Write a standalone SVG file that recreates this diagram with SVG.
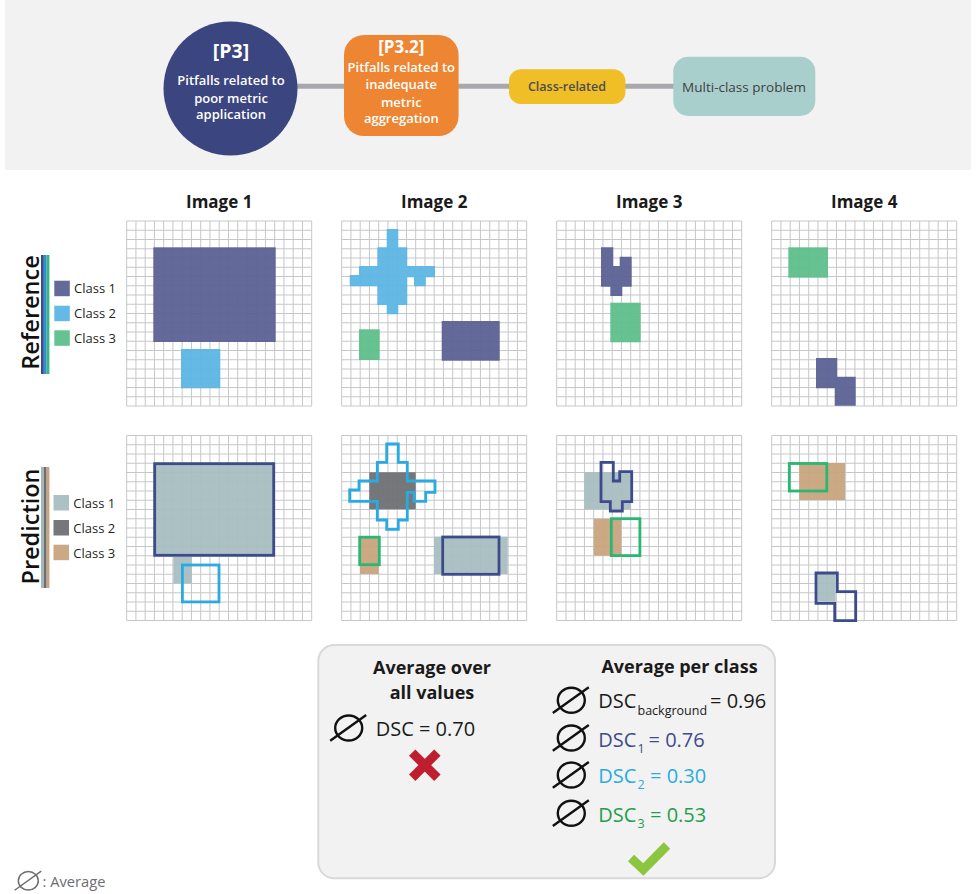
<svg xmlns="http://www.w3.org/2000/svg" width="976" height="894" viewBox="0 0 976 894">
<style>
text{font-family:"Open Sans","Liberation Sans",sans-serif}
.wt{fill:#fff;font-weight:600;font-size:13px;text-anchor:middle}
.wb{fill:#fff;font-weight:700;text-anchor:middle}
.title{font-weight:700;font-size:17px;text-anchor:middle;fill:#1a1a1a}
.leg{font-size:13px;fill:#231f20}
.side{font-size:23.5px;font-weight:600;text-anchor:middle;fill:#111}
.gl{stroke:#c6c7c9;stroke-width:1;fill:none}
.r1{fill:#5b6294;fill-opacity:.95}
.r2{fill:#5cb6e4;fill-opacity:.95}
.r3{fill:#5fbf8b;fill-opacity:.95}
.p1{fill:#a6bec0;fill-opacity:.95}
.p2{fill:#6f7073;fill-opacity:.95}
.p3{fill:#c9a47e;fill-opacity:.95}
.o1{fill:none;stroke:#3d4b8c;stroke-width:2.8}
.o2{fill:none;stroke:#29abe2;stroke-width:2.8}
.o3{fill:none;stroke:#2ab673;stroke-width:2.8}
.avg{fill:none;stroke:#111;stroke-width:2.4}
.dsc{font-size:20px;fill:#1a1a1a}
.sub{font-size:12.5px}
.h{font-weight:700;font-size:18px;text-anchor:middle;fill:#1a1a1a}
.conn{stroke:#a7a9ac;stroke-width:5;fill:none}
</style>
<defs>
<g id="grid">
<rect width="185" height="185" fill="#fff"/>
<path class="gl" d="M0 0V185M9.25 0V185M18.5 0V185M27.75 0V185M37 0V185M46.25 0V185M55.5 0V185M64.75 0V185M74 0V185M83.25 0V185M92.5 0V185M101.75 0V185M111 0V185M120.25 0V185M129.5 0V185M138.75 0V185M148 0V185M157.25 0V185M166.5 0V185M175.75 0V185M185 0V185M0 0H185M0 9.25H185M0 18.5H185M0 27.75H185M0 37H185M0 46.25H185M0 55.5H185M0 64.75H185M0 74H185M0 83.25H185M0 92.5H185M0 101.75H185M0 111H185M0 120.25H185M0 129.5H185M0 138.75H185M0 148H185M0 157.25H185M0 166.5H185M0 175.75H185M0 185H185"/>
</g>
<polygon id="cross" points="386.7,229 398.3,229 398.3,247.3 407.3,247.3 407.3,266 435,266 435,277.3 425.7,277.3 425.7,286.3 414,286.3 414,277.3 407.3,277.3 407.3,305 398.3,305 398.3,314.3 386.7,314.3 386.7,305 377.3,305 377.3,286.3 349.7,286.3 349.7,275 359,275 359,266 377.3,266 377.3,247.3 386.7,247.3"/>
<polygon id="s3" points="601,247.3 613.3,247.3 613.3,266 619.7,266 619.7,256.7 631.7,256.7 631.7,286.7 622.3,286.7 622.3,296 610.3,296 610.3,286.7 601,286.7"/>
<polygon id="s4" points="816,358 837.3,358 837.3,376.7 855.7,376.7 855.7,405.7 834.7,405.7 834.7,388.3 816,388.3"/>
<g id="avgIcon"><ellipse cx="0" cy="0" rx="13.5" ry="12.5"/><line x1="-18.5" y1="12.8" x2="17.5" y2="-13"/></g>
</defs>
<rect width="976" height="894" fill="#fff"/>

<!-- banner -->
<rect x="5" y="0" width="966" height="170" fill="#f2f2f2"/>
<g id="connectors">
<path class="conn" d="M296 86.3H345M457 86.3H510M624 86.3H674"/>
</g>
<g id="node-p3">
<circle cx="230.5" cy="88.5" r="67" fill="#3b4580"/>
<text class="wb" x="231" y="58" font-size="19.5">[P3]</text>
<text class="wt" x="231" y="85">Pitfalls related to</text>
<text class="wt" x="231" y="102.7">poor metric</text>
<text class="wt" x="231" y="119.3">application</text>
</g>
<g id="node-p32">
<rect x="344" y="35" width="114.6" height="101" rx="20" fill="#ed8532"/>
<text class="wb" x="401.3" y="53.3" font-size="17">[P3.2]</text>
<text class="wt" x="401.3" y="71.7" font-size="12.5">Pitfalls related to</text>
<text class="wt" x="401.3" y="89.3" font-size="12.5">inadequate</text>
<text class="wt" x="401.3" y="106.7" font-size="12.5">metric</text>
<text class="wt" x="401.3" y="123.3" font-size="12.5">aggregation</text>
</g>
<g id="node-class">
<rect x="509" y="69.3" width="116.4" height="34.7" rx="12" fill="#f0be27"/>
<text x="567" y="90.7" font-size="12.5" font-weight="600" fill="#4d4d4f" text-anchor="middle">Class-related</text>
</g>
<g id="node-multi">
<rect x="673.3" y="56.7" width="142" height="59.3" rx="15" fill="#a9cfcd"/>
<text x="744" y="91.7" font-size="13.5" fill="#414042" text-anchor="middle">Multi-class problem</text>
</g>

<!-- titles -->
<text class="title" x="219.2" y="208">Image 1</text>
<text class="title" x="434.2" y="208">Image 2</text>
<text class="title" x="649.2" y="208">Image 3</text>
<text class="title" x="864.2" y="208">Image 4</text>

<!-- legend reference -->
<g id="legend-reference">
<text class="side" transform="translate(39,312.5) rotate(-90)">Reference</text>
<rect x="41" y="255" width="2.8" height="119" fill="#3f4a8a"/>
<rect x="43.8" y="255" width="2.8" height="119" fill="#2b8fd4"/>
<rect x="46.6" y="255" width="2.8" height="119" fill="#3ab77d"/>
<rect x="54.3" y="280.7" width="15.5" height="15.5" class="r1"/>
<rect x="54.3" y="305.7" width="15.5" height="15.5" class="r2"/>
<rect x="54.3" y="330.3" width="15.5" height="15.5" class="r3"/>
<text class="leg" x="74" y="293.3">Class 1</text>
<text class="leg" x="74" y="318.3">Class 2</text>
<text class="leg" x="74" y="343.3">Class 3</text>
</g>
<g id="legend-prediction">
<text class="side" transform="translate(39,526.5) rotate(-90)">Prediction</text>
<rect x="41" y="467" width="2.8" height="121" fill="#a0b9ba"/>
<rect x="43.8" y="467" width="2.8" height="121" fill="#6d6e71"/>
<rect x="46.6" y="467" width="2.8" height="121" fill="#c9a37d"/>
<rect x="53.5" y="495" width="15.5" height="15.5" class="p1"/>
<rect x="53.5" y="520" width="15.5" height="15.5" class="p2"/>
<rect x="53.5" y="544.7" width="15.5" height="15.5" class="p3"/>
<text class="leg" x="73.3" y="508.3">Class 1</text>
<text class="leg" x="73.3" y="533.3">Class 2</text>
<text class="leg" x="73.3" y="558.3">Class 3</text>
</g>

<!-- reference grids -->
<g id="ref-image1">
<use href="#grid" x="126.7" y="221"/>
<rect class="r1" x="153.3" y="247.3" width="122.4" height="94.7"/>
<rect class="r2" x="181" y="349" width="39.3" height="39.3"/>
</g>
<g id="ref-image2">
<use href="#grid" x="341.7" y="221"/>
<use href="#cross" class="r2"/>
<rect class="r3" x="359" y="329.3" width="20.7" height="30.7"/>
<rect class="r1" x="441.7" y="321" width="58" height="39.7"/>
</g>
<g id="ref-image3">
<use href="#grid" x="556.7" y="221"/>
<use href="#s3" class="r1"/>
<rect class="r3" x="610.3" y="302.7" width="30.4" height="39.6"/>
</g>
<g id="ref-image4">
<use href="#grid" x="771.7" y="221"/>
<rect class="r3" x="788.3" y="247.3" width="39.7" height="30.4"/>
<use href="#s4" class="r1"/>
</g>

<!-- prediction grids -->
<g id="pred-image1">
<use href="#grid" x="126.7" y="435.5"/>
<rect class="p1" x="153.5" y="462.5" width="121.5" height="94"/>
<rect class="p1" x="173.3" y="556.5" width="18.4" height="26.8"/>
<rect class="o1" x="154.7" y="463.7" width="119" height="91.6"/>
<rect class="o2" x="182.4" y="565" width="36.6" height="36.9"/>
</g>
<g id="pred-image2">
<use href="#grid" x="341.7" y="435.5"/>
<rect class="p2" x="369.3" y="472.3" width="46.4" height="37"/>
<rect class="p3" x="360" y="536.7" width="18.7" height="37.3"/>
<rect class="p1" x="434" y="536.7" width="73.7" height="37.3"/>
<use href="#cross" class="o2" y="215"/>
<rect class="o3" x="359.7" y="537.2" width="19.6" height="27.5"/>
<rect class="o1" x="442.7" y="537" width="56.3" height="37.3"/>
</g>
<g id="pred-image3">
<use href="#grid" x="556.7" y="435.5"/>
<rect class="p1" x="584.3" y="472.3" width="46.4" height="37"/>
<rect class="p3" x="593.7" y="518.7" width="27.6" height="37"/>
<use href="#s3" class="o1" y="215"/>
<rect class="o3" x="611.3" y="518.7" width="28.6" height="36.9"/>
</g>
<g id="pred-image4">
<use href="#grid" x="771.7" y="435.5"/>
<rect class="p3" x="799.3" y="463" width="45.7" height="37"/>
<rect class="p1" x="817.3" y="573.7" width="18.4" height="28"/>
<rect class="o3" x="789.3" y="463.5" width="37.5" height="27.5"/>
<use href="#s4" class="o1" y="215"/>
</g>

<!-- result box -->
<g id="result-box">
<rect x="318.3" y="645" width="456.7" height="233.3" rx="16" fill="#f2f2f2" stroke="#d9d9d9" stroke-width="2"/>
<text class="h" x="432" y="674.3">Average over</text>
<text class="h" x="432" y="699.3">all values</text>
<use href="#avgIcon" class="avg" x="348.7" y="728"/>
<text class="dsc" x="375.7" y="736">DSC = 0.70</text>
<g stroke="#be1e2d" stroke-width="9">
<line x1="412.2" y1="752.6" x2="437.4" y2="777.8"/>
<line x1="437.4" y1="752.6" x2="412.2" y2="777.8"/>
</g>
<text class="h" x="679.5" y="673.3">Average per class</text>
<use href="#avgIcon" class="avg" x="571.3" y="700.3"/>
<use href="#avgIcon" class="avg" x="571.3" y="738"/>
<use href="#avgIcon" class="avg" x="571.3" y="775"/>
<use href="#avgIcon" class="avg" x="571.3" y="813.3"/>
<text class="dsc"><tspan x="598.3" y="708.3">DSC</tspan><tspan class="sub" x="637.5" y="715">background</tspan><tspan x="710" y="708.3">= 0.96</tspan></text>
<text class="dsc" style="fill:#3f4b8b"><tspan x="598.3" y="746.7">DSC</tspan><tspan class="sub" x="637.5" y="752.7">1</tspan><tspan x="648.5" y="746.7">= 0.76</tspan></text>
<text class="dsc" style="fill:#29abe2"><tspan x="598.3" y="782.7">DSC</tspan><tspan class="sub" x="637.5" y="788.7">2</tspan><tspan x="650" y="782.7">= 0.30</tspan></text>
<text class="dsc" style="fill:#1f9f4c"><tspan x="598.3" y="821.7">DSC</tspan><tspan class="sub" x="637.5" y="827.7">3</tspan><tspan x="650" y="821.7">= 0.53</tspan></text>
<polyline points="631,858 643.3,869.5 667,845.5" fill="none" stroke="#8cc63f" stroke-width="9"/>
</g>

<!-- footnote -->
<g id="footnote">
<use href="#avgIcon" transform="translate(28.3,880.8) scale(0.74)" fill="none" stroke="#6d6e71" stroke-width="2"/>
<text x="42.5" y="887.3" font-size="14.7" fill="#6d6e71">: Average</text>
</g>
</svg>
